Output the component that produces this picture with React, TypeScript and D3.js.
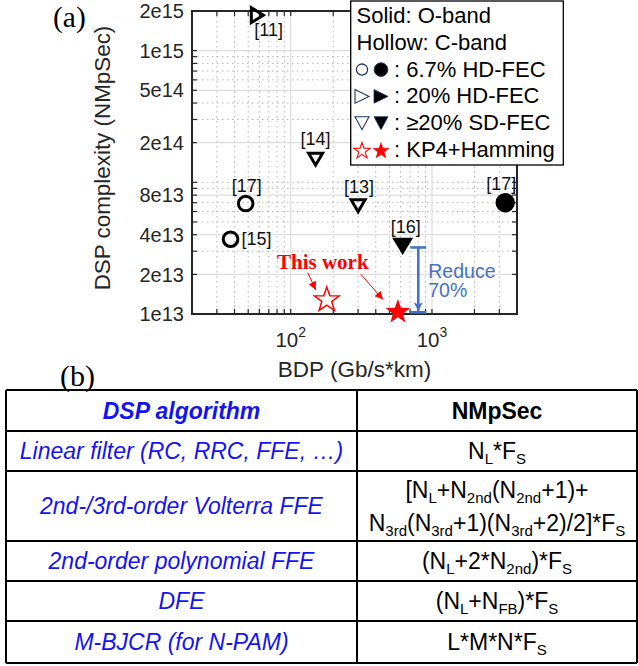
import React from "react";
import * as d3 from "d3";

// ---- chart data ----
const bdpDomain = [20, 4000];
const nmpsecDomain = [1e13, 2e15];

const xTickValues = [100, 1000];
const xTickExponents = ["2", "3"];
const yTickValues = [1e13, 2e13, 4e13, 8e13, 2e14, 5e14, 1e15, 2e15];
const yTickLabels = ["1e13", "2e13", "4e13", "8e13", "2e14", "5e14", "1e15", "2e15"];

const pointRefs = ["[11]", "[14]", "[13]", "[17]", "[15]", "[17]", "[16]", "", ""];
const pointBdp = [58, 150, 300, 48, 37.5, 3300, 620, 180, 574];
const pointNmpsec = [1.86e15, 1.5e14, 6.65e13, 6.9e13, 3.7e13, 7.0e13, 3.26e13, 1.28e13, 1.035e13];
const pointShapes = ["right", "down", "down", "circle", "circle", "circle", "down", "star", "star"];
const pointFilled = [false, false, false, false, false, true, true, false, true];

const reductionBdp = 800;
const reductionFrom = 3.2e13;
const reductionTo = 1.03e13;
const reductionText = ["Reduce", "70%"];

const legendHeader = ["Solid: O-band", "Hollow: C-band"];
const legendShapes = ["circle", "right", "down", "star"];
const legendLabels = [": 6.7% HD-FEC", ": 20% HD-FEC", ": \u226520% SD-FEC", ": KP4+Hamming"];

const tableHeaders = ["DSP algorithm", "NMpSec"];
const algorithms = [
  "Linear filter (RC, RRC, FFE, \u2026)",
  "2nd-/3rd-order Volterra FFE",
  "2nd-order polynomial FFE",
  "DFE",
  "M-BJCR (for N-PAM)",
];
const complexities = [
  ["N_{L}*F_{S}"],
  ["[N_{L}+N_{2nd}(N_{2nd}+1)+", "N_{3rd}(N_{3rd}+1)(N_{3rd}+2)/2]*F_{S}"],
  ["(N_{L}+2*N_{2nd})*F_{S}"],
  ["(N_{L}+N_{FB})*F_{S}"],
  ["L*M*N*F_{S}"],
];

// ---- layout ----
const W = 638;
const H = 666;
const plot = { left: 192, right: 517, top: 11, bottom: 314 };
const SANS = "'Liberation Sans', Arial, sans-serif";
const SERIF = "'Liberation Serif', 'Times New Roman', serif";
const AXIS = "#262626";
const NAVY = "#203864";
const RED = "#ff0000";
const BLUE = "#4472c4";
const TABLE_BLUE = "#1414f0";

// label offsets relative to each marker: [dx, dy, anchor]
const refLabelOffsets: [number, number, string][] = [
  [-3, 21, "start"],
  [0, -14, "middle"],
  [1, -13, "middle"],
  [1, -12, "middle"],
  [11, 6, "start"],
  [-4, -13, "middle"],
  [3, -13, "middle"],
  [0, 0, "middle"],
  [0, 0, "middle"],
];

const x = d3.scaleLog().domain(bdpDomain).range([plot.left, plot.right]);
const y = d3.scaleLog().domain(nmpsecDomain).range([plot.bottom, plot.top]);

function trianglePath(shape: string, cx: number, cy: number, a: number, b: number) {
  if (shape === "down") {
    return `M${cx - a},${cy - b}L${cx + a},${cy - b}L${cx},${cy + b}Z`;
  }
  return `M${cx - a},${cy - b}L${cx + a},${cy}L${cx - a},${cy + b}Z`;
}

function starPath(cx: number, cy: number, R: number) {
  const r = R * 0.4;
  const pts: string[] = [];
  for (let i = 0; i < 10; i++) {
    const ang = -Math.PI / 2 + (i * Math.PI) / 5;
    const rad = i % 2 === 0 ? R : r;
    pts.push(`${cx + rad * Math.cos(ang)},${cy + rad * Math.sin(ang)}`);
  }
  return `M${pts.join("L")}Z`;
}

function Marker({ shape, filled, cx, cy }: { shape: string; filled: boolean; cx: number; cy: number }) {
  if (shape === "circle") {
    return filled ? (
      <circle cx={cx} cy={cy} r={9.7} fill="#000" />
    ) : (
      <circle cx={cx} cy={cy} r={7.3} fill="none" stroke="#000" strokeWidth={3} />
    );
  }
  if (shape === "star") {
    return filled ? (
      <path d={starPath(cx, cy, 13)} fill={RED} />
    ) : (
      <path d={starPath(cx, cy, 13)} fill="none" stroke={RED} strokeWidth={1.5} />
    );
  }
  if (shape === "down") {
    return filled ? (
      <path d={trianglePath("down", cx, cy, 10.5, 8.7)} fill="#000" />
    ) : (
      <path d={trianglePath("down", cx, cy, 7, 6)} fill="none" stroke="#000" strokeWidth={3} strokeLinejoin="miter" />
    );
  }
  return filled ? (
    <path d={trianglePath("right", cx, cy, 8.7, 10.5)} fill="#000" />
  ) : (
    <path d={trianglePath("right", cx, cy, 6, 7.5)} fill="none" stroke="#000" strokeWidth={3} strokeLinejoin="miter" />
  );
}

function LegendSymbol({ shape, filled, cx, cy }: { shape: string; filled: boolean; cx: number; cy: number }) {
  if (shape === "circle") {
    return filled ? (
      <circle cx={cx} cy={cy} r={6.8} fill="#000" stroke={NAVY} strokeWidth={1} />
    ) : (
      <circle cx={cx} cy={cy} r={5.6} fill="none" stroke={NAVY} strokeWidth={1.3} />
    );
  }
  if (shape === "star") {
    return <path d={starPath(cx, cy + 1, 8.5)} fill={filled ? RED : "none"} stroke={RED} strokeWidth={filled ? 0.5 : 1.1} />;
  }
  const d = shape === "down" ? trianglePath("down", cx, cy, 7, 6.5) : trianglePath("right", cx, cy, 7, 6.8);
  return filled ? (
    <path d={d} fill="#000" stroke={NAVY} strokeWidth={0.8} />
  ) : (
    <path d={d} fill="none" stroke={NAVY} strokeWidth={1.1} />
  );
}

// Splits "N_{L}*F_{S}" into normal / subscript runs.
function parseFormula(s: string) {
  const parts: { t: string; sub: boolean }[] = [];
  const re = /_\{([^}]*)\}/g;
  let last = 0;
  let m: RegExpExecArray | null;
  while ((m = re.exec(s)) !== null) {
    if (m.index > last) parts.push({ t: s.slice(last, m.index), sub: false });
    parts.push({ t: m[1], sub: true });
    last = m.index + m[0].length;
  }
  if (last < s.length) parts.push({ t: s.slice(last), sub: false });
  return parts;
}

function Formula({ text, cx, baseline }: { text: string; cx: number; baseline: number }) {
  const parts = parseFormula(text);
  let shifted = false;
  return (
    <text x={cx} y={baseline} textAnchor="middle" fontFamily={SANS} fontSize={23} fill="#000">
      {parts.map((p, i) => {
        let dy = 0;
        if (p.sub && !shifted) {
          dy = 5;
          shifted = true;
        } else if (!p.sub && shifted) {
          dy = -5;
          shifted = false;
        }
        return (
          <tspan key={i} dy={dy} fontSize={p.sub ? 15 : 23}>
            {p.t}
          </tspan>
        );
      })}
    </text>
  );
}

export default function App() {
  const gridTicks = x.ticks();
  const yGridTicks = y.ticks();
  const isPow10 = (v: number) => Math.abs(Math.log10(v) - Math.round(Math.log10(v))) < 1e-9;
  const xMinor = gridTicks.filter((v) => !isPow10(v) && v > bdpDomain[0] && v < bdpDomain[1]);
  const yMinor = yGridTicks.filter(
    (v) => !yTickValues.some((t) => Math.abs(t - v) / v < 1e-6) && v > nmpsecDomain[0] && v < nmpsecDomain[1]
  );
  const tickLen = 5;

  // table geometry
  const colX = [6, 357, 637];
  const rowY = [390, 431, 471, 541, 581, 621, 663];
  const leftCx = (colX[0] + colX[1]) / 2;
  const rightCx = (colX[1] + colX[2]) / 2;

  const pts = pointBdp.map((v, i) => ({ px: x(v), py: y(pointNmpsec[i]) }));
  const hollowStar = pts[7];
  const solidStar = pts[8];
  const bx = x(reductionBdp);
  const byTop = y(reductionFrom);
  const byBot = y(reductionTo);

  const legend = { x0: 350.7, y0: 1, x1: 563.3, y1: 165 };
  const legendBase = 23;
  const legendStep = 26.8;

  return (
    <svg
      width={W}
      height={H}
      viewBox={`0 0 ${W} ${H}`}
      style={{ position: "absolute", left: 0, top: 0, background: "#fff" }}
    >
      <defs>
        <marker id="redHead" viewBox="0 0 10 10" refX="10" refY="5" markerWidth="9" markerHeight="8" markerUnits="userSpaceOnUse" orient="auto">
          <path d="M0,0L10,5L0,10Z" fill={RED} />
        </marker>
        <marker id="blueHead" viewBox="0 0 10 10" refX="10" refY="5" markerWidth="10" markerHeight="9" markerUnits="userSpaceOnUse" orient="auto">
          <path d="M0,0L10,5L0,10L2.5,5Z" fill={BLUE} />
        </marker>
      </defs>

      <rect x={0} y={0} width={W} height={H} fill="#fff" />

      {/* panel (a) */}
      <text x={53} y={27} fontFamily={SERIF} fontSize={29.5} fill="#000">
        (a)
      </text>

      {/* minor grid */}
      <g stroke="#b5b5b5" strokeWidth={1} strokeDasharray="1.5,3.5">
        {xMinor.map((v, i) => (
          <line key={`xm${i}`} x1={x(v)} x2={x(v)} y1={plot.top} y2={plot.bottom} />
        ))}
        {yMinor.map((v, i) => (
          <line key={`ym${i}`} x1={plot.left} x2={plot.right} y1={y(v)} y2={y(v)} />
        ))}
      </g>
      {/* major grid */}
      <g stroke="#dedede" strokeWidth={1.2}>
        {xTickValues.map((v, i) => (
          <line key={`xg${i}`} x1={x(v)} x2={x(v)} y1={plot.top} y2={plot.bottom} />
        ))}
        {yTickValues.map((v, i) => (
          <line key={`yg${i}`} x1={plot.left} x2={plot.right} y1={y(v)} y2={y(v)} />
        ))}
      </g>

      {/* ticks on all four sides */}
      <g stroke={AXIS} strokeWidth={1.2}>
        {[...xMinor, ...xTickValues].map((v, i) => (
          <g key={`xt${i}`}>
            <line x1={x(v)} x2={x(v)} y1={plot.bottom} y2={plot.bottom - tickLen} />
            <line x1={x(v)} x2={x(v)} y1={plot.top} y2={plot.top + tickLen} />
          </g>
        ))}
        {[...yMinor, ...yTickValues].map((v, i) => (
          <g key={`yt${i}`}>
            <line x1={plot.left} x2={plot.left + tickLen} y1={y(v)} y2={y(v)} />
            <line x1={plot.right} x2={plot.right - tickLen} y1={y(v)} y2={y(v)} />
          </g>
        ))}
      </g>

      <rect
        x={plot.left}
        y={plot.top}
        width={plot.right - plot.left}
        height={plot.bottom - plot.top}
        fill="none"
        stroke={AXIS}
        strokeWidth={2}
      />

      {/* tick labels */}
      <g fontFamily={SANS} fill={AXIS}>
        {yTickValues.map((v, i) => (
          <text key={`yl${i}`} x={plot.left - 8} y={y(v)} dy="0.36em" textAnchor="end" fontSize={20}>
            {yTickLabels[i]}
          </text>
        ))}
        {xTickValues.map((v, i) => (
          <text key={`xl${i}`} x={x(v)} y={347} textAnchor="middle" fontSize={20.5}>
            10
            <tspan dy={-10} fontSize={14}>
              {xTickExponents[i]}
            </tspan>
          </text>
        ))}
        <text x={(plot.left + plot.right) / 2} y={377} textAnchor="middle" fontSize={22.5}>
          BDP (Gb/s*km)
        </text>
        <text transform="translate(110,158) rotate(-90)" textAnchor="middle" fontSize={22.4}>
          DSP complexity (NMpSec)
        </text>
      </g>

      {/* reduction bracket */}
      <g stroke={BLUE} strokeWidth={2.6}>
        <line x1={bx - 8} x2={bx + 8} y1={byTop} y2={byTop} />
        <line x1={bx - 8} x2={bx + 8} y1={byBot} y2={byBot} />
        <line x1={bx} x2={bx} y1={byTop} y2={byBot - 1} markerEnd="url(#blueHead)" />
      </g>
      <text x={bx + 10} y={278} fontFamily={SANS} fontSize={19.5} fill={BLUE}>
        <tspan x={bx + 10}>{reductionText[0]}</tspan>
        <tspan x={bx + 10} dy={19}>
          {reductionText[1]}
        </tspan>
      </text>

      {/* data markers */}
      {pts.map((p, i) => (
        <Marker key={`m${i}`} shape={pointShapes[i]} filled={pointFilled[i]} cx={p.px} cy={p.py} />
      ))}
      {pts.map((p, i) =>
        pointRefs[i] ? (
          <text
            key={`r${i}`}
            x={p.px + refLabelOffsets[i][0]}
            y={p.py + refLabelOffsets[i][1]}
            textAnchor={refLabelOffsets[i][2] as any}
            fontFamily={SANS}
            fontSize={18}
            fill="#111"
          >
            {pointRefs[i]}
          </text>
        ) : null
      )}

      {/* "This work" annotation */}
      <text x={277} y={269} fontFamily={SERIF} fontWeight="bold" fontSize={21} fill={RED}>
        This work
      </text>
      <g stroke={RED} strokeWidth={1}>
        <line x1={307.7} y1={272.7} x2={hollowStar.px - 11} y2={hollowStar.py - 10} markerEnd="url(#redHead)" />
        <line x1={360.7} y1={274} x2={solidStar.px - 15} y2={solidStar.py - 12.5} markerEnd="url(#redHead)" />
      </g>

      {/* legend */}
      <rect
        x={legend.x0}
        y={legend.y0}
        width={legend.x1 - legend.x0}
        height={legend.y1 - legend.y0}
        fill="#fff"
        stroke="#000"
        strokeWidth={1.3}
      />
      <g fontFamily={SANS} fontSize={22} fill="#000">
        {legendHeader.map((t, i) => (
          <text key={`lh${i}`} x={356.5} y={legendBase + i * legendStep}>
            {t}
          </text>
        ))}
        {legendLabels.map((t, i) => {
          const base = legendBase + (i + 2) * legendStep;
          return (
            <g key={`ll${i}`}>
              <LegendSymbol shape={legendShapes[i]} filled={false} cx={362} cy={base - 7} />
              <LegendSymbol shape={legendShapes[i]} filled={true} cx={381} cy={base - 7} />
              <text x={394} y={base}>
                {t}
              </text>
            </g>
          );
        })}
      </g>

      {/* panel (b): table */}
      <text x={60} y={386} fontFamily={SERIF} fontSize={30} fill="#000">
        (b)
      </text>
      <g stroke="#000" strokeWidth={2}>
        {rowY.map((yy, i) => (
          <line key={`hr${i}`} x1={colX[0]} x2={colX[2]} y1={yy} y2={yy} />
        ))}
        {colX.map((xx, i) => (
          <line key={`vr${i}`} x1={xx} x2={xx} y1={rowY[0]} y2={rowY[rowY.length - 1]} />
        ))}
      </g>
      <text
        x={leftCx}
        y={(rowY[0] + rowY[1]) / 2 + 8}
        textAnchor="middle"
        fontFamily={SANS}
        fontStyle="italic"
        fontWeight="bold"
        fontSize={23}
        fill={TABLE_BLUE}
      >
        {tableHeaders[0]}
      </text>
      <text
        x={rightCx}
        y={(rowY[0] + rowY[1]) / 2 + 8}
        textAnchor="middle"
        fontFamily={SANS}
        fontWeight="bold"
        fontSize={23}
        fill="#000"
      >
        {tableHeaders[1]}
      </text>
      {algorithms.map((a, i) => {
        const mid = (rowY[i + 1] + rowY[i + 2]) / 2;
        const lines = complexities[i];
        return (
          <g key={`row${i}`}>
            <text
              x={leftCx}
              y={mid + 8}
              textAnchor="middle"
              fontFamily={SANS}
              fontStyle="italic"
              fontSize={23}
              fill={TABLE_BLUE}
            >
              {a}
            </text>
            {lines.map((f, j) => (
              <Formula
                key={`f${j}`}
                text={f}
                cx={rightCx}
                baseline={mid + 8 + (j - (lines.length - 1) / 2) * 33}
              />
            ))}
          </g>
        );
      })}
    </svg>
  );
}
